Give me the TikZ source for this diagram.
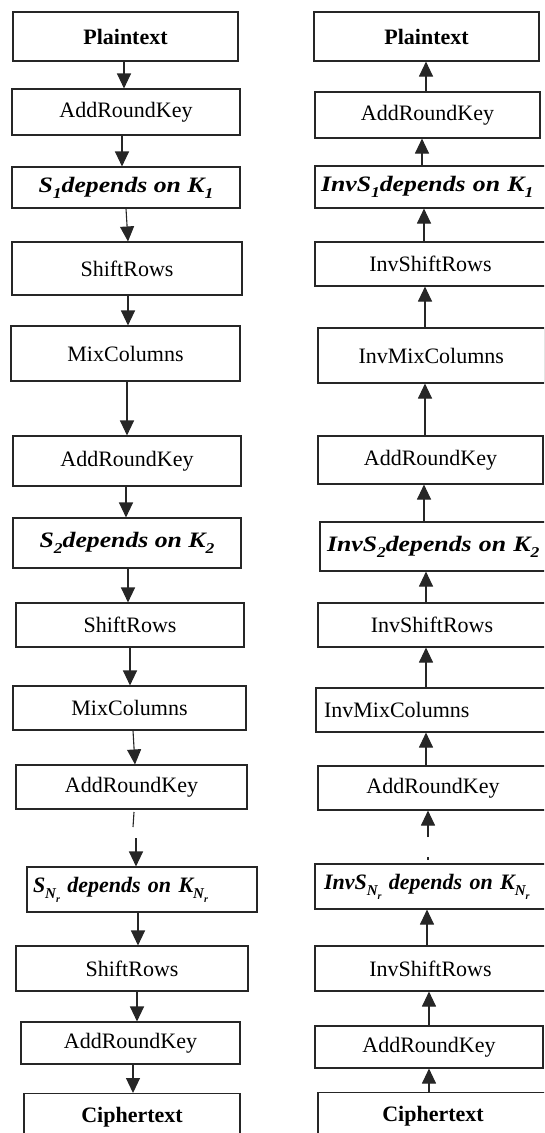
\documentclass[tikz,border=0pt]{standalone}
\usepackage{fontspec}
\setmainfont{Liberation Serif}
\newfontfamily\fmlA{Liberation Serif}[FakeStretch=1.17]
\usetikzlibrary{arrows.meta}
\newcommand\lsub[1]{\raisebox{-0.28em}{\fontsize{15}{15}\selectfont #1}}
\newcommand\llsub[1]{\raisebox{-0.25em}{\fontsize{10}{10}\selectfont #1}}
\newcommand\fa[1]{{\fmlA\bfseries\itshape #1}}
\newcommand\fb[1]{{\bfseries\itshape #1}}
\tikzset{
  box/.style={draw=black!85, line width=1.1pt, inner sep=0pt, font=\fontsize{22}{26}\selectfont},
  lbox/.style={box, align=left, inner xsep=#1, inner ysep=0pt},
  arr/.style={draw=black!85, line width=1.1pt, -{Triangle[length=15pt,width=14pt]}},
  seg/.style={draw=black!85, line width=1.1pt}
}
% \bx{name}{x1}{x2}{y1}{y2}{text}
\newcommand\bx[6]{\node[box, minimum width={#3-#2}, minimum height={#5-#4}] (#1) at ({(#2+#3)/2},{(#4+#5)/2}) {#6};}
% \lbx{name}{x1}{x2}{y1}{y2}{pad}{text}
\newcommand\lbx[7]{\node[lbox=#6, text width={#3-#2-2*#6}, minimum height={#5-#4}] (#1) at ({(#2+#3)/2},{(#4+#5)/2}) {#7};}
\begin{document}
\begin{tikzpicture}[x=1pt,y=-1pt]
\path[use as bounding box] (0,0) rectangle (544,1133);
\clip (0,0) rectangle (544,1133);
% left column
\bx{L1}{13}{238}{12}{61}{\textbf{Plaintext}}
\bx{L2}{12}{240}{89}{135}{AddRoundKey}
\bx{L3}{12}{240}{167}{208}{\fa{S\lsub{1}depends on K\lsub{1}}}
\bx{L4}{12}{242}{242}{295}{ShiftRows}
\bx{L5}{11}{240}{326}{381}{MixColumns}
\bx{L6}{13}{241}{436}{486}{AddRoundKey}
\bx{L7}{13}{241}{518}{568}{\fa{S\lsub{2}depends on K\lsub{2}}}
\bx{L8}{16}{244}{603}{647}{ShiftRows}
\bx{L9}{13}{246}{686}{730}{MixColumns}
\bx{L10}{16}{247}{765}{809}{AddRoundKey}
\lbx{L11}{27}{257}{867}{912}{6}{\fb{S\lsub{N\llsub{r}} depends on K\lsub{N\llsub{r}}}}
\bx{L12}{16}{248}{946}{991}{ShiftRows}
\bx{L13}{21}{240}{1022}{1064}{AddRoundKey}
\node[box, minimum width=216, minimum height=48, anchor=north] (L14) at (132,1093) {\rule{0pt}{4pt}\textbf{Ciphertext}};
% right column
\bx{R1}{314}{539}{12}{61}{\textbf{Plaintext}}
\bx{R2}{315}{540}{92}{138}{AddRoundKey}
\lbx{R3}{315}{570}{166}{208}{6}{\fa{InvS\lsub{1}depends on K\lsub{1}}}
\bx{R4}{315}{546}{242}{286}{InvShiftRows}
\bx{R5}{318}{544.5}{328}{383}{InvMixColumns}
\bx{R6}{318}{543}{436}{484}{AddRoundKey}
\lbx{R7}{320}{580}{522}{571}{7}{\fa{InvS\lsub{2}depends on K\lsub{2}}}
\bx{R8}{318}{546}{603}{647}{InvShiftRows}
\lbx{R9}{316}{570}{688}{732}{8}{InvMixColumns}
\bx{R10}{318}{548}{766}{810}{AddRoundKey}
\lbx{R11}{315}{570}{864}{909}{9}{\fb{InvS\lsub{N\llsub{r}} depends on K\lsub{N\llsub{r}}}}
\bx{R12}{315}{546}{946}{991}{InvShiftRows}
\bx{R13}{315}{543}{1026}{1068}{AddRoundKey}
\node[box, minimum width=230, minimum height=48, anchor=north] (R14) at (433,1092) {\rule{0pt}{4pt}\textbf{Ciphertext}};
% left arrows
\draw[arr] (L1.south -| 124,0) -- (L2.north -| 124,0);
\draw[arr] (L2.south -| 122,0) -- (L3.north -| 122,0);
\draw[arr] (L3.south -| 126,0) -- (L4.north -| 128,0);
\draw[arr] (L4.south -| 128,0) -- (L5.north -| 128,0);
\draw[arr] (L5.south -| 127,0) -- (L6.north -| 127,0);
\draw[arr] (L6.south -| 126,0) -- (L7.north -| 126,0);
\draw[arr] (L7.south -| 128,0) -- (L8.north -| 128,0);
\draw[arr] (L8.south -| 130,0) -- (L9.north -| 130,0);
\draw[arr] (L9.south -| 133,0) -- (L10.north -| 135,0);
\coordinate (g1) at (134,812);
\coordinate (g2) at (133,827);
\coordinate (g3) at (136,838);
\draw[seg] (g1) -- (g2);
\draw[arr] (g3) -- (L11.north -| 136,0);
\draw[arr] (L11.south -| 138,0) -- (L12.north -| 138,0);
\draw[arr] (L12.south -| 137,0) -- (L13.north -| 137,0);
\draw[arr] (L13.south -| 133,0) -- (L14.north -| 133,0);
% right arrows
\draw[arr] (R2.north -| 426,0) -- (R1.south -| 426,0);
\draw[arr] (R3.north -| 422,0) -- (R2.south -| 422,0);
\draw[arr] (R4.north -| 424,0) -- (R3.south -| 424,0);
\draw[arr] (R5.north -| 425,0) -- (R4.south -| 425,0);
\draw[arr] (R6.north -| 425,0) -- (R5.south -| 425,0);
\draw[arr] (R7.north -| 424,0) -- (R6.south -| 424,0);
\draw[arr] (R8.north -| 426,0) -- (R7.south -| 426,0);
\draw[arr] (R9.north -| 426,0) -- (R8.south -| 426,0);
\draw[arr] (R10.north -| 426,0) -- (R9.south -| 426,0);
\coordinate (h1) at (428,837);
\coordinate (h2) at (428,857);
\coordinate (h3) at (428,859.5);
\draw[arr] (h1) -- (R10.south -| 428,0);
\draw[seg] (h2) -- (h3);
\draw[arr] (R12.north -| 427,0) -- (R11.south -| 427,0);
\draw[arr] (R13.north -| 429,0) -- (R12.south -| 429,0);
\draw[arr] (R14.north -| 429,0) -- (R13.south -| 429,0);
\end{tikzpicture}
\end{document}
